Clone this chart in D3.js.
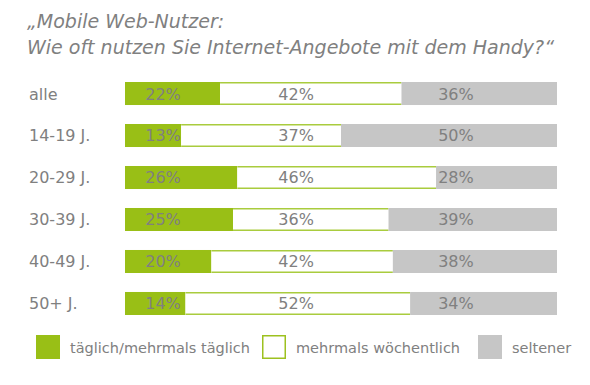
<!DOCTYPE html>
<html>
<head>
<meta charset="utf-8">
<script src="https://cdn.jsdelivr.net/npm/d3@7"></script>
<style>
  body { margin: 0; background: #fff; }
  text { font-family: "DejaVu Sans", Verdana, sans-serif; fill: #808080; }
</style>
</head>
<body>
<div class="chart"></div>
<script>
// data
var categories = ['alle', '14-19 J.', '20-29 J.', '30-39 J.', '40-49 J.', '50+ J.'];
var daily  = [22, 13, 26, 25, 20, 14];
var weekly = [42, 37, 46, 36, 42, 52];
var rarely = [36, 50, 28, 39, 38, 34];
var seriesNames = ['täglich/mehrmals täglich', 'mehrmals wöchentlich', 'seltener'];
var titleLines = ['\u201EMobile Web-Nutzer:', 'Wie oft nutzen Sie Internet-Angebote mit dem Handy?\u201C'];

var green = '#99bf16', lightGreen = '#a9cc3e', grey = '#c6c6c6';
// where the value labels sit, in percent of the bar
var labelAt = [8.8, 39.6, 76.6];

var svg = d3.select('.chart')
  .append('svg')
  .attr('width', 590)
  .attr('height', 385);

var x = d3.scaleLinear().domain([0, 100]).range([125, 557]);
var y = d3.scaleBand().domain(categories).range([82, 315]).paddingInner(0.452).paddingOuter(0);

// title
svg.selectAll('.title')
  .data(titleLines)
  .enter()
  .append('text')
  .attr('x', 27)
  .attr('y', function(d, i) { return 28 + i * 26; })
  .style('font-size', '19px')
  .style('font-style', 'italic')
  .text(function(d) { return d; });

// stack the three series
var rows = categories.map(function(c, i) {
  return { cat: c, vals: [daily[i], weekly[i], rarely[i]] };
});

var row = svg.selectAll('.row')
  .data(rows)
  .enter()
  .append('g')
  .attr('transform', function(d) { return 'translate(0,' + y(d.cat) + ')'; });

var h = y.bandwidth();

row.each(function(d) {
  var g = d3.select(this);
  var start = 0;
  d.vals.forEach(function(v, k) {
    var x0 = x(start), x1 = x(start + v);
    if (k === 0) {
      g.append('rect').attr('x', x0).attr('y', 0).attr('width', x1 - x0).attr('height', h).style('fill', green);
    } else if (k === 1) {
      g.append('rect').attr('x', x0).attr('y', 0).attr('width', x1 - x0).attr('height', h).style('fill', '#fff');
      g.append('line').attr('x1', x0).attr('x2', x1).attr('y1', 0.75).attr('y2', 0.75)
        .style('stroke', lightGreen).style('stroke-width', 1.5);
      g.append('line').attr('x1', x0).attr('x2', x1).attr('y1', h - 0.75).attr('y2', h - 0.75)
        .style('stroke', lightGreen).style('stroke-width', 1.5);
    } else {
      g.append('rect').attr('x', x0).attr('y', 0).attr('width', x1 - x0).attr('height', h).style('fill', grey);
    }
    start += v;
  });

  g.selectAll('.val')
    .data(d.vals)
    .enter()
    .append('text')
    .attr('x', function(v, k) { return x(labelAt[k]); })
    .attr('y', h / 2 + 6)
    .attr('text-anchor', 'middle')
    .style('font-size', '16px')
    .text(function(v) { return v + '%'; });

  g.append('text')
    .attr('x', 29)
    .attr('y', h / 2 + 6)
    .style('font-size', '16px')
    .text(d.cat);
});

// legend
var legendX = [36, 262, 478];
var legend = svg.selectAll('.legend')
  .data(seriesNames)
  .enter()
  .append('g')
  .attr('transform', function(d, i) { return 'translate(' + legendX[i] + ',335)'; });

legend.append('rect')
  .attr('x', function(d, i) { return i === 1 ? 0.75 : 0; })
  .attr('y', function(d, i) { return i === 1 ? 0.75 : 0; })
  .attr('width', function(d, i) { return i === 1 ? 22.5 : 24; })
  .attr('height', function(d, i) { return i === 1 ? 22.5 : 24; })
  .style('fill', function(d, i) { return [green, '#fff', grey][i]; })
  .style('stroke', function(d, i) { return i === 1 ? '#9dc11f' : 'none'; })
  .style('stroke-width', 1.5);

legend.append('text')
  .attr('x', 34)
  .attr('y', 18)
  .style('font-size', '14.5px')
  .text(function(d) { return d; });
</script>
</body>
</html>
